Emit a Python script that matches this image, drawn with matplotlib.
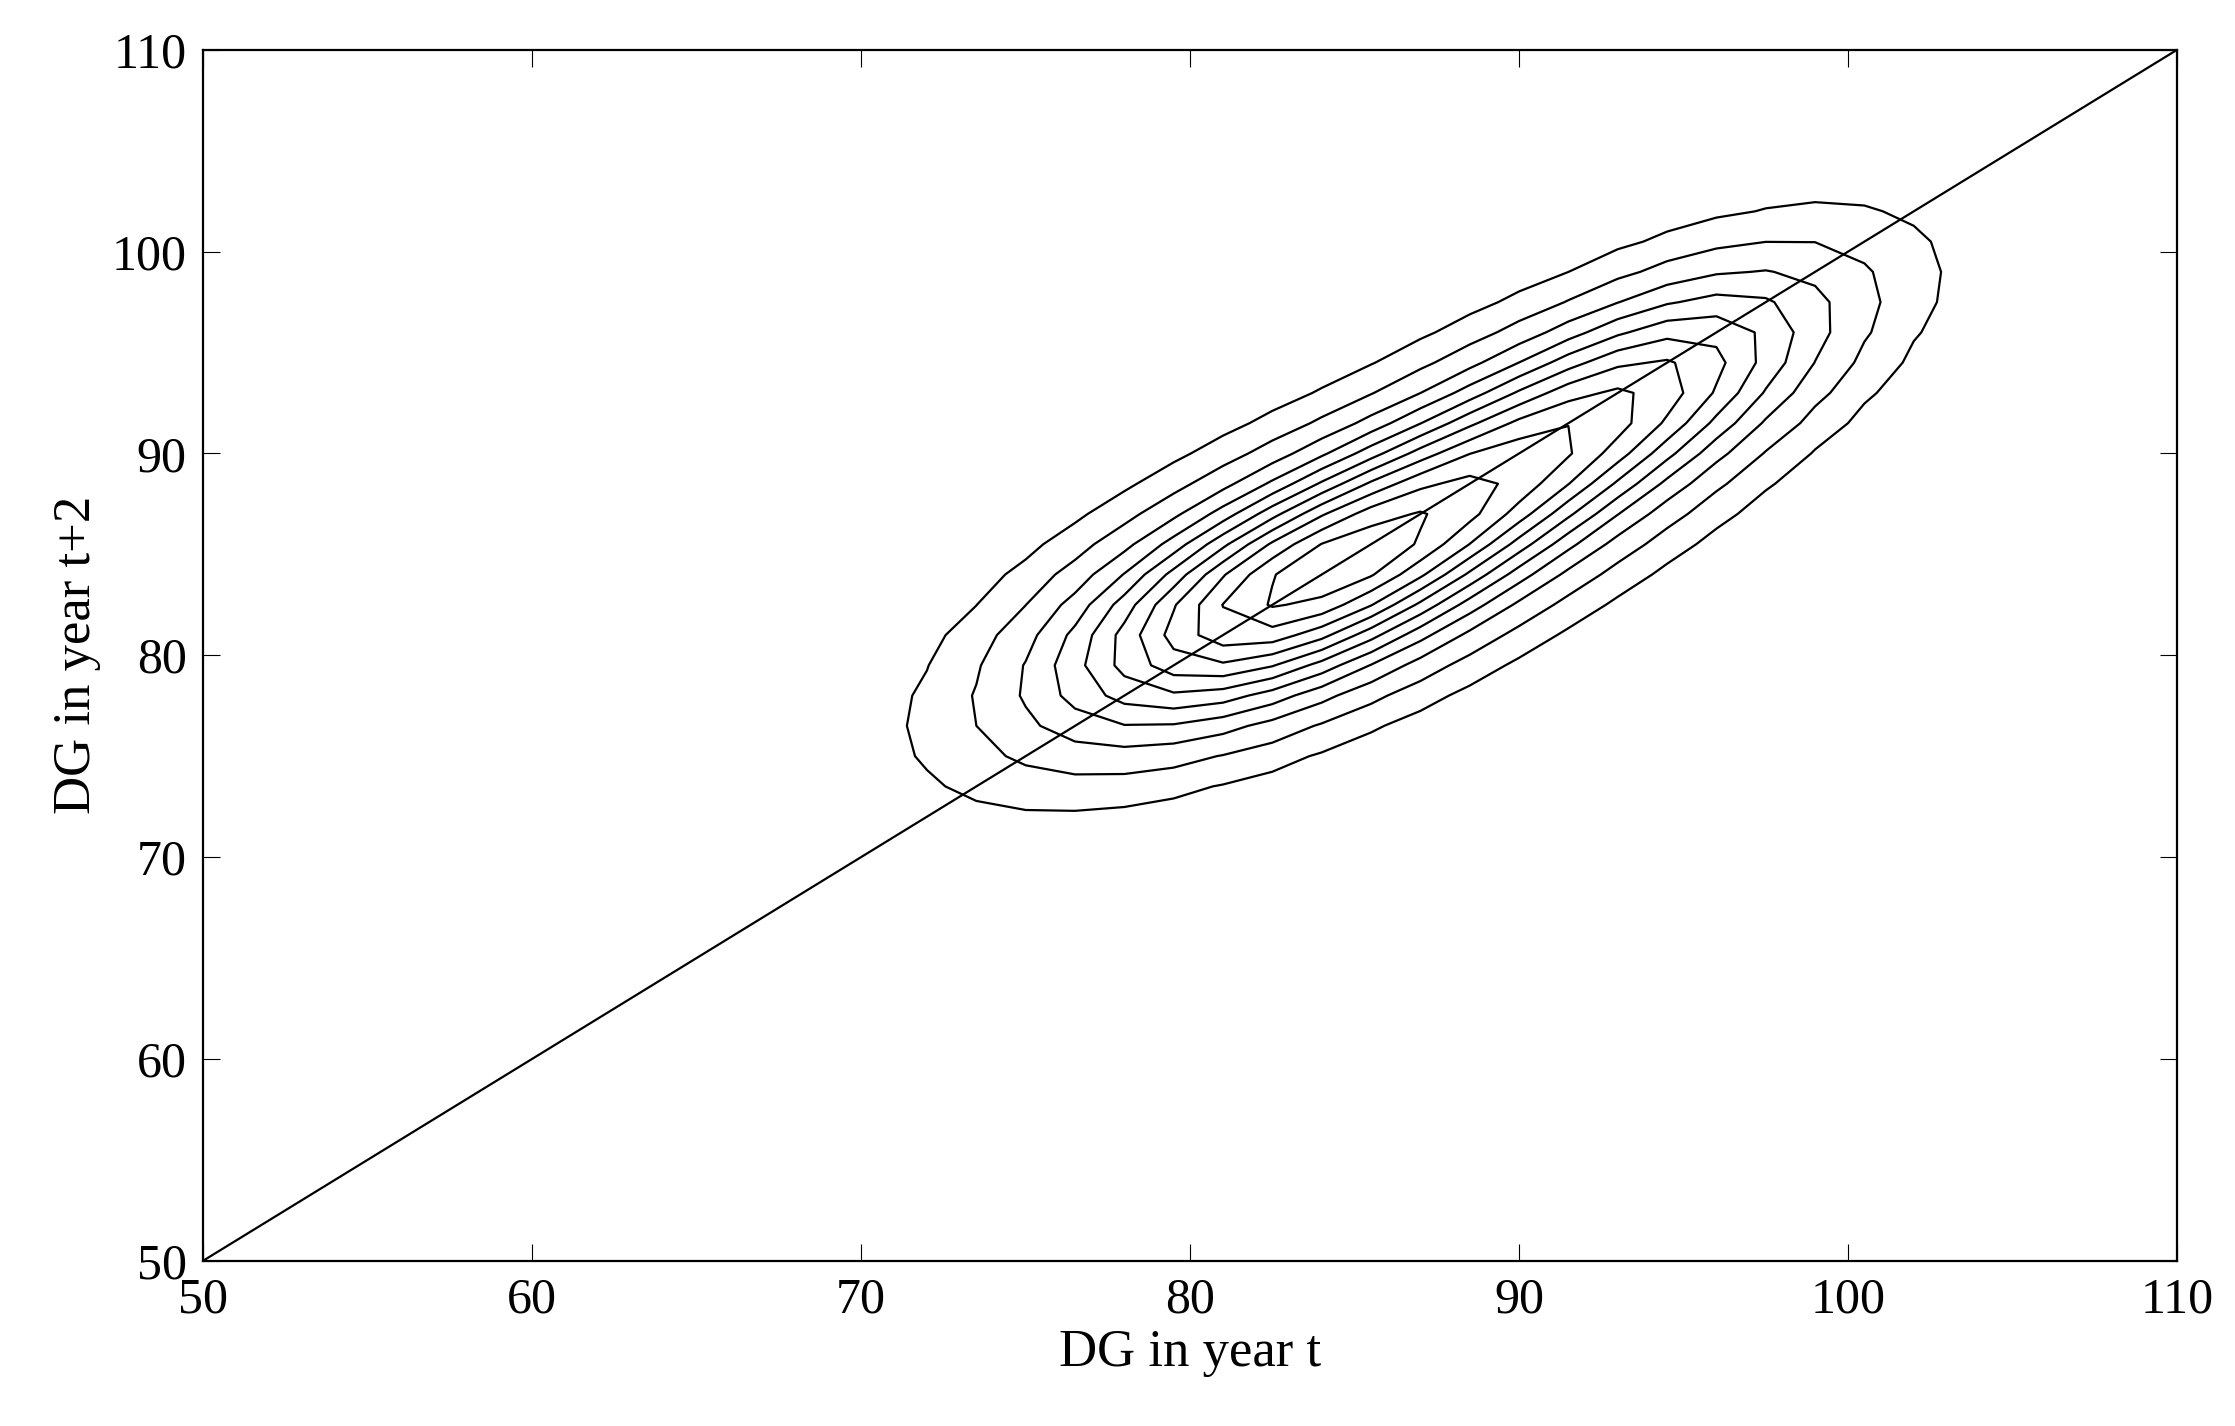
import numpy as np
import matplotlib
matplotlib.use("Agg")
import matplotlib.pyplot as plt

plt.rcParams['font.family'] = ['Liberation Serif', 'DejaVu Serif']

# Density model: mixture components along diagonal
comp_mx = [82.0, 86.5, 91.0, 95.0]
comp_my = [82.5, 86.0, 90.5, 94.5]
comp_w = [1.0, 0.6, 0.55, 0.45]
comp_sx = [4.6, 4.9, 4.6, 3.8]
comp_sy = [4.4, 4.8, 4.6, 3.9]
comp_rho = [0.6, 0.64, 0.64, 0.6]
levels_frac = [0.05, 0.12, 0.21, 0.30, 0.39, 0.48, 0.57, 0.66, 0.75, 0.84, 0.93]
xticks = [50, 60, 70, 80, 90, 100, 110]
yticks = [50, 60, 70, 80, 90, 100, 110]

gx = np.arange(60, 112, 1.5)
gy = np.arange(60, 112, 1.5)
X, Y = np.meshgrid(gx, gy)
Z = np.zeros_like(X)
for mx, my, w, sx, sy, r in zip(comp_mx, comp_my, comp_w, comp_sx, comp_sy, comp_rho):
    dx = (X - mx) / sx
    dy = (Y - my) / sy
    q = (dx**2 - 2*r*dx*dy + dy**2) / (1 - r**2)
    Z += w * np.exp(-0.5 * q)
Z /= Z.max()

fig = plt.figure(figsize=(22.35, 14.26), dpi=100)
ax = fig.add_axes([0.091, 0.116, 0.883, 0.849])
ax.contour(X, Y, Z, levels=levels_frac, colors='black', linewidths=1.6)
ax.plot([50, 110], [50, 110], color='black', linewidth=1.6)
ax.set_xlim(50, 110)
ax.set_ylim(50, 110)
ax.set_xticks(xticks)
ax.set_yticks(yticks)
ax.tick_params(direction='in', length=12, labelsize=36, top=True, right=True, pad=12)
ax.tick_params(labeltop=False, labelright=False)
for s in ax.spines.values():
    s.set_linewidth(1.6)
ax.set_xlabel('DG in year t', fontsize=38, labelpad=4)
ax.set_ylabel('DG in year t+2', fontsize=38, labelpad=8)
fig.savefig('out.png', dpi=100)
